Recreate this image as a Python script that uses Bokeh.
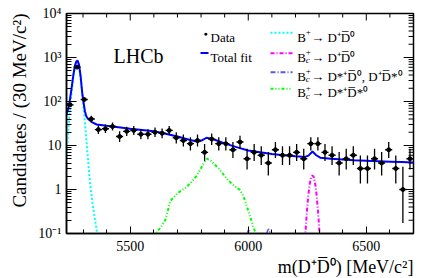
import math
from bokeh.plotting import figure
from bokeh.models import (FixedTicker, Range1d, Label, Arrow, Title)
from bokeh.embed import file_html
from bokeh.resources import INLINE

# ---------------- data ----------------
bin_centers = [5245, 5275, 5305, 5335, 5365, 5395, 5425, 5455, 5485, 5515,
               5545, 5575, 5605, 5635, 5665, 5695, 5725, 5755, 5785, 5815,
               5845, 5875, 5905, 5935, 5965, 5995, 6025, 6055, 6085, 6115,
               6145, 6175, 6205, 6235, 6265, 6295, 6325, 6355, 6385, 6415,
               6445, 6475, 6505, 6535, 6565, 6595, 6625, 6655, 6685]
counts = [84, 605, 111, 40, 23, 24, 27, 16, 21, 22,
          18, 18, 20, 19, 22, 15, 13, 11, 13, 7,
          14, 11, 11, 8, 12, 5, 7, 6, 4, 8,
          6, 6, 7, 5, 11, 11, 7, 6, 4, 5,
          6, 3, 3, 5, 4, 8, 3, 1, 5]
bin_half_width = 15

fit_mass = [5230, 5238, 5245, 5252, 5259, 5266, 5272, 5277, 5283, 5290,
            5297, 5303, 5308, 5314, 5322, 5337, 5358, 5400, 5450, 5500,
            5550, 5600, 5650, 5700, 5750, 5785, 5805, 5823, 5840, 5858,
            5900, 5950, 6000, 6050, 6100, 6150, 6200, 6240, 6255, 6272,
            6288, 6305, 6350, 6400, 6450, 6500, 6550, 6600, 6650, 6700]
fit_total = [52, 70, 115, 210, 400, 660, 820, 850, 690, 370,
             150, 90, 60, 46, 40, 34, 30, 28, 26, 24,
             22.5, 21, 18.5, 16, 13.5, 12.2, 13.2, 15, 14.5, 13.5,
             11.2, 9.2, 7.7, 7.0, 6.4, 6.0, 5.7, 5.5, 5.9, 7.3,
             6.0, 5.3, 5.0, 4.8, 4.6, 4.5, 4.4, 4.3, 4.2, 4.1]

bplus_mass = [5230, 5238, 5245, 5252, 5259, 5266, 5272, 5277, 5283, 5290,
              5296, 5301, 5308, 5315, 5322, 5329, 5340, 5350, 5360, 5366]
bplus_val = [5, 25, 70, 170, 360, 620, 790, 810, 650, 330,
             160, 85, 34, 12, 4.2, 1.5, 0.5, 0.22, 0.1, 0.07]

bc_mass = [6236, 6242, 6248, 6254, 6260, 6266, 6272, 6278, 6284, 6290, 6296, 6302, 6308]
bc_val = [0.03, 0.1, 0.3, 0.7, 1.3, 1.9, 2.1, 1.9, 1.3, 0.7, 0.3, 0.1, 0.03]

bcstar_mass = [5975, 5990, 5998, 6003, 6010, 6020, 6040, 6060, 6075, 6083, 6088, 6095, 6110]
bcstar_val = [0.02, 0.07, 0.11, 0.125, 0.1, 0.06, 0.04, 0.05, 0.09, 0.12, 0.125, 0.09, 0.03]

bcss_mass = [5600, 5608, 5630, 5650, 5670, 5700, 5740, 5780, 5810, 5825,
             5840, 5875, 5915, 5950, 5965, 5980, 6000, 6020, 6032, 6040]
bcss_val = [0.07, 0.1, 0.14, 0.21, 0.55, 0.82, 1.15, 2.0, 3.8, 5.0,
            4.6, 3.0, 1.6, 1.1, 0.98, 0.7, 0.33, 0.15, 0.1, 0.08]

x_major = [5500, 6000, 6500]
x_minor = [5300, 5400, 5600, 5700, 5800, 5900, 6100, 6200, 6300, 6400, 6600]
y_major = [0.1, 1, 10, 100, 1000, 10000]
y_minor = [m * d for d in [0.1, 1, 10, 100, 1000] for m in range(2, 10)]
y_tick_labels = ["10\u207b\u00b9", "1", "10", "10\u00b2", "10\u00b3", "10\u2074"]
x_title = "m(D\u207aD\u0305\u2070) [MeV/c\u00b2]"
y_title = "Candidates / (30 MeV/c\u00b2)"

X_LO, X_HI = 5230, 6700
Y_LO, Y_HI = 0.1, 1e4
FRAME_W, FRAME_H = 352, 220

# ---------------- Poisson (Garwood) intervals ----------------
def pois_cdf(k, mu):
    if k < 0:
        return 0.0
    s = 0.0
    for i in range(k + 1):
        s += math.exp(-mu + i * math.log(mu) - math.lgamma(i + 1)) if mu > 0 else (1.0 if i == 0 else 0.0)
    return s

def solve(f, lo, hi):
    for _ in range(80):
        mid = 0.5 * (lo + hi)
        if f(mid) > 0:
            lo = mid
        else:
            hi = mid
    return 0.5 * (lo + hi)

alpha = 0.158655
err_lo, err_hi = [], []
for n in counts:
    top = n + 10 * math.sqrt(n) + 10
    lo = 0.0 if n == 0 else solve(lambda mu: alpha - (1 - pois_cdf(n - 1, mu)), 0.0, top)
    hi = solve(lambda mu: pois_cdf(n, mu) - alpha, 0.0, top)
    err_lo.append(lo)
    err_hi.append(hi)

SERIF = "Liberation Serif"

p = figure(width=436, height=278, x_range=Range1d(X_LO, X_HI), y_range=Range1d(Y_LO, Y_HI),
           y_axis_type="log", output_backend="svg", toolbar_location=None,
           min_border_left=61, min_border_right=23, min_border_top=13, min_border_bottom=45,
           background_fill_color="white", border_fill_color="white")
p.xgrid.visible = False
p.ygrid.visible = False
p.outline_line_color = "black"
p.outline_line_width = 1.5

xt = FixedTicker(ticks=x_major, minor_ticks=x_minor)
yt = FixedTicker(ticks=y_major, minor_ticks=y_minor)


def style_axis(ax, major_in, minor_in):
    ax.axis_line_color = "black"
    ax.axis_line_width = 1.5
    ax.major_tick_in = major_in
    ax.major_tick_out = 0
    ax.minor_tick_in = minor_in
    ax.minor_tick_out = 0
    ax.major_tick_line_color = "black"
    ax.minor_tick_line_color = "black"
    ax.major_tick_line_width = 1
    ax.minor_tick_line_width = 1
    ax.major_label_text_font = SERIF
    ax.major_label_text_font_size = "14px"
    ax.major_label_text_color = "black"


xa = p.xaxis[0]
xa.ticker = xt
style_axis(xa, 7, 4)
xa.major_label_standoff = 7

ya = p.yaxis[0]
ya.ticker = yt
style_axis(ya, 10, 5)
ya.major_label_standoff = 5
ya.major_label_overrides = dict(zip(y_major, y_tick_labels))

# axis titles, right/top aligned as in the original
p.add_layout(Title(text=x_title, align="right", text_font=SERIF, text_font_size="18px",
                   text_font_style="normal", text_color="black", standoff=3), "below")
p.add_layout(Title(text=y_title, align="right", text_font=SERIF, text_font_size="19px",
                   text_font_style="normal", text_color="black", standoff=12), "left")

# mirrored ticks on the top and right edges (drawn from the tick lists)
mev_per_px = (X_HI - X_LO) / FRAME_W
dec_per_px = math.log10(Y_HI / Y_LO) / FRAME_H
p.segment(x0=x_major, y0=[Y_HI] * len(x_major), x1=x_major,
          y1=[Y_HI / 10 ** (7 * dec_per_px)] * len(x_major), line_color="black", line_width=1)
p.segment(x0=x_minor, y0=[Y_HI] * len(x_minor), x1=x_minor,
          y1=[Y_HI / 10 ** (4 * dec_per_px)] * len(x_minor), line_color="black", line_width=1)
p.segment(x0=[X_HI] * len(y_major), y0=y_major, x1=[X_HI - 10 * mev_per_px] * len(y_major),
          y1=y_major, line_color="black", line_width=1)
p.segment(x0=[X_HI] * len(y_minor), y0=y_minor, x1=[X_HI - 5 * mev_per_px] * len(y_minor),
          y1=y_minor, line_color="black", line_width=1)

# ---------------- components ----------------
CYAN, MAGENTA, VIOLET, GREEN, BLUE = "#00ffff", "#ff00ff", "#5a5ae0", "#00ff00", "#0000ff"
p.line(bplus_mass, bplus_val, line_color=CYAN, line_width=2, line_dash="2 2")
p.line(bc_mass, bc_val, line_color=MAGENTA, line_width=2, line_dash="4 2 1 2")
p.line(bcstar_mass, bcstar_val, line_color=VIOLET, line_width=1.5, line_dash="5 2 1 2")
p.line(bcss_mass, bcss_val, line_color=GREEN, line_width=2, line_dash="3 2 1 2 1 2")
p.line(fit_mass, fit_total, line_color=BLUE, line_width=2)

# ---------------- data points ----------------
p.segment(x0=bin_centers, y0=err_lo, x1=bin_centers, y1=err_hi, line_color="black", line_width=1.3)
p.segment(x0=[c - bin_half_width for c in bin_centers], y0=counts,
          x1=[c + bin_half_width for c in bin_centers], y1=counts, line_color="black", line_width=1.3)
p.scatter(bin_centers, counts, size=4, color="black")

# ---------------- texts ----------------
def lab(x, y, text, size="13px", style="normal", align="left", baseline="alphabetic"):
    p.add_layout(Label(x=x, y=y, x_units="screen", y_units="screen", text=text,
                       text_font=SERIF, text_font_size=size, text_font_style=style,
                       text_align=align, text_baseline=baseline, text_color="black"))

lab(47, 178, "LHCb", size="20px")

# legend, column 1
lab(139, 200, "\u25cf", size="7px", align="center", baseline="middle")
lab(144, 196, "Data")
p.add_layout(Arrow(start=None, end=None, x_start=134, y_start=180.5, x_end=142, y_end=180.5,
                   start_units="screen", end_units="screen", line_color=BLUE, line_width=2))
lab(144, 176.5, "Total fit")

# legend, column 2
rows = [
    (200.7, 196.5, CYAN, "2 2", False, "\u2192 D\u207aD\u0305\u2070"),
    (180.3, 176.5, MAGENTA, "4 2 1 2", True, "\u2192 D\u207aD\u0305\u2070"),
    (161.3, 157.5, VIOLET, "5 2 1 2", True, "\u2192 D*\u207aD\u0305\u2070, D\u207aD\u0305*\u2070"),
    (144.7, 141.0, GREEN, "3 2 1 2 1 2", True, "\u2192 D*\u207aD\u0305*\u2070"),
]
x0 = 230.7
for ly, by, col, dash, sub_c, rest in rows:
    p.add_layout(Arrow(start=None, end=None, x_start=204, y_start=ly, x_end=226, y_end=ly,
                       start_units="screen", end_units="screen", line_color=col,
                       line_width=2, line_dash=dash))
    lab(x0, by, "B")
    lab(x0 + 8.6, by + 5, "+", size="9px")
    if sub_c:
        lab(x0 + 8.6, by - 3, "c", size="9px", style="italic")
    lab(x0 + 14.0, by, rest)

open("out.html", "w").write(file_html(p, INLINE))
